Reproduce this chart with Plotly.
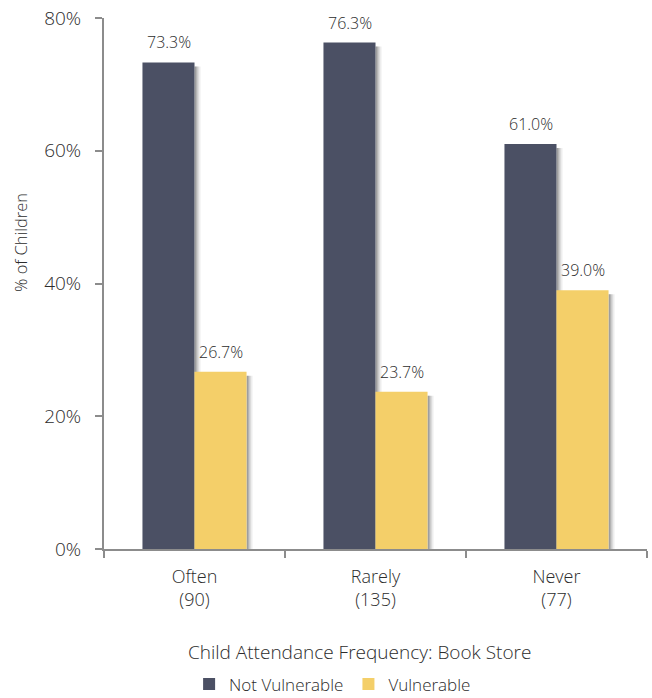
import plotly.graph_objects as go

categories = ["Often<br>(90)", "Rarely<br>(135)", "Never<br>(77)"]
not_vulnerable = [73.3, 76.3, 61.0]
vulnerable = [26.7, 23.7, 39.0]
series_names = ["Not Vulnerable", "Vulnerable"]
y_ticks = [0, 20, 40, 60, 80]
y_tick_labels = ["0%", "20%", "40%", "60%", "80%"]

DARK = "#4b5064"
GOLD = "#f4cf69"
TEXT = "#2c2c2c"
AXIS = "#8c8c8c"
FONT = "Open Sans, Noto Sans, sans-serif"
WEIGHT = 300

BARGAP = 0.425
BAR_W = (1 - BARGAP) / 2  # width of one bar in category units
PLOT_H = 698 - 18 - 149   # plot area height in px

fig = go.Figure()
for name, vals, color in [(series_names[0], not_vulnerable, DARK),
                          (series_names[1], vulnerable, GOLD)]:
    fig.add_trace(go.Bar(
        name=name, x=categories, y=vals, marker=dict(color=color, line=dict(width=0)),
        hoverinfo="skip",
    ))

# soft drop shadow along the right edge of every bar
for side, vals in [(0, not_vulnerable), (1, vulnerable)]:
    for i, v in enumerate(vals):
        right = i - BAR_W + (side + 1) * BAR_W
        for w, op in [(2, 0.22), (4, 0.14), (6, 0.07)]:
            fig.add_shape(type="rect", layer="below", xref="x", yref="y",
                          xsizemode="pixel", xanchor=right, x0=0, x1=w,
                          ysizemode="pixel", yanchor=v, y0=-4, y1=-4 - (v * PLOT_H / 80) + 2,
                          line=dict(width=0), fillcolor=f"rgba(0,0,0,{op})")

# value labels above each bar
half = 26
for offset, vals in [(-half, not_vulnerable), (half, vulnerable)]:
    for cat, v in zip(categories, vals):
        fig.add_annotation(x=cat, y=v, text=f"{v:.1f}%", showarrow=False,
                           xref="x", yref="y", xshift=offset, yshift=20,
                           font=dict(family=FONT, size=16, color=TEXT, weight=WEIGHT))

# axis titles placed as free text
fig.add_annotation(text="% of Children", textangle=-90, showarrow=False,
                   xref="paper", yref="paper", x=-0.155, y=0.578,
                   xanchor="center", yanchor="middle",
                   font=dict(family=FONT, size=16.5, color=TEXT, weight=WEIGHT))
fig.add_annotation(text="Child Attendance Frequency: Book Store", showarrow=False,
                   xref="paper", yref="paper", x=0.47, y=-0.194,
                   xanchor="center", yanchor="middle",
                   font=dict(family=FONT, size=19, color=TEXT, weight=WEIGHT))

fig.update_layout(
    width=652, height=698,
    margin=dict(l=104, r=5, t=18, b=149, autoexpand=False),
    barmode="group", bargap=BARGAP, bargroupgap=0,
    plot_bgcolor="white", paper_bgcolor="white",
    font=dict(family=FONT, size=15, color=TEXT, weight=WEIGHT),
    showlegend=True,
    legend=dict(orientation="h", x=0.421, xanchor="center", y=-0.221, yanchor="top",
                font=dict(size=17, color=TEXT, weight=WEIGHT), itemwidth=30,
                traceorder="normal"),
)
fig.update_xaxes(
    showline=True, linecolor=AXIS, linewidth=2, ticks="outside", tickson="boundaries",
    ticklen=7, tickcolor=AXIS, tickwidth=2, ticklabelstandoff=10,
    tickfont=dict(size=18, color=TEXT, weight=WEIGHT),
)
fig.update_yaxes(
    range=[0, 80], tickvals=y_ticks, ticktext=y_tick_labels, showgrid=False,
    showline=True, linecolor=AXIS, linewidth=2, ticks="outside", ticklen=7,
    tickcolor=AXIS, tickwidth=2, zeroline=False, ticklabelstandoff=10,
    tickfont=dict(size=19, color=TEXT, weight=WEIGHT),
)

fig.write_html("out.html")
